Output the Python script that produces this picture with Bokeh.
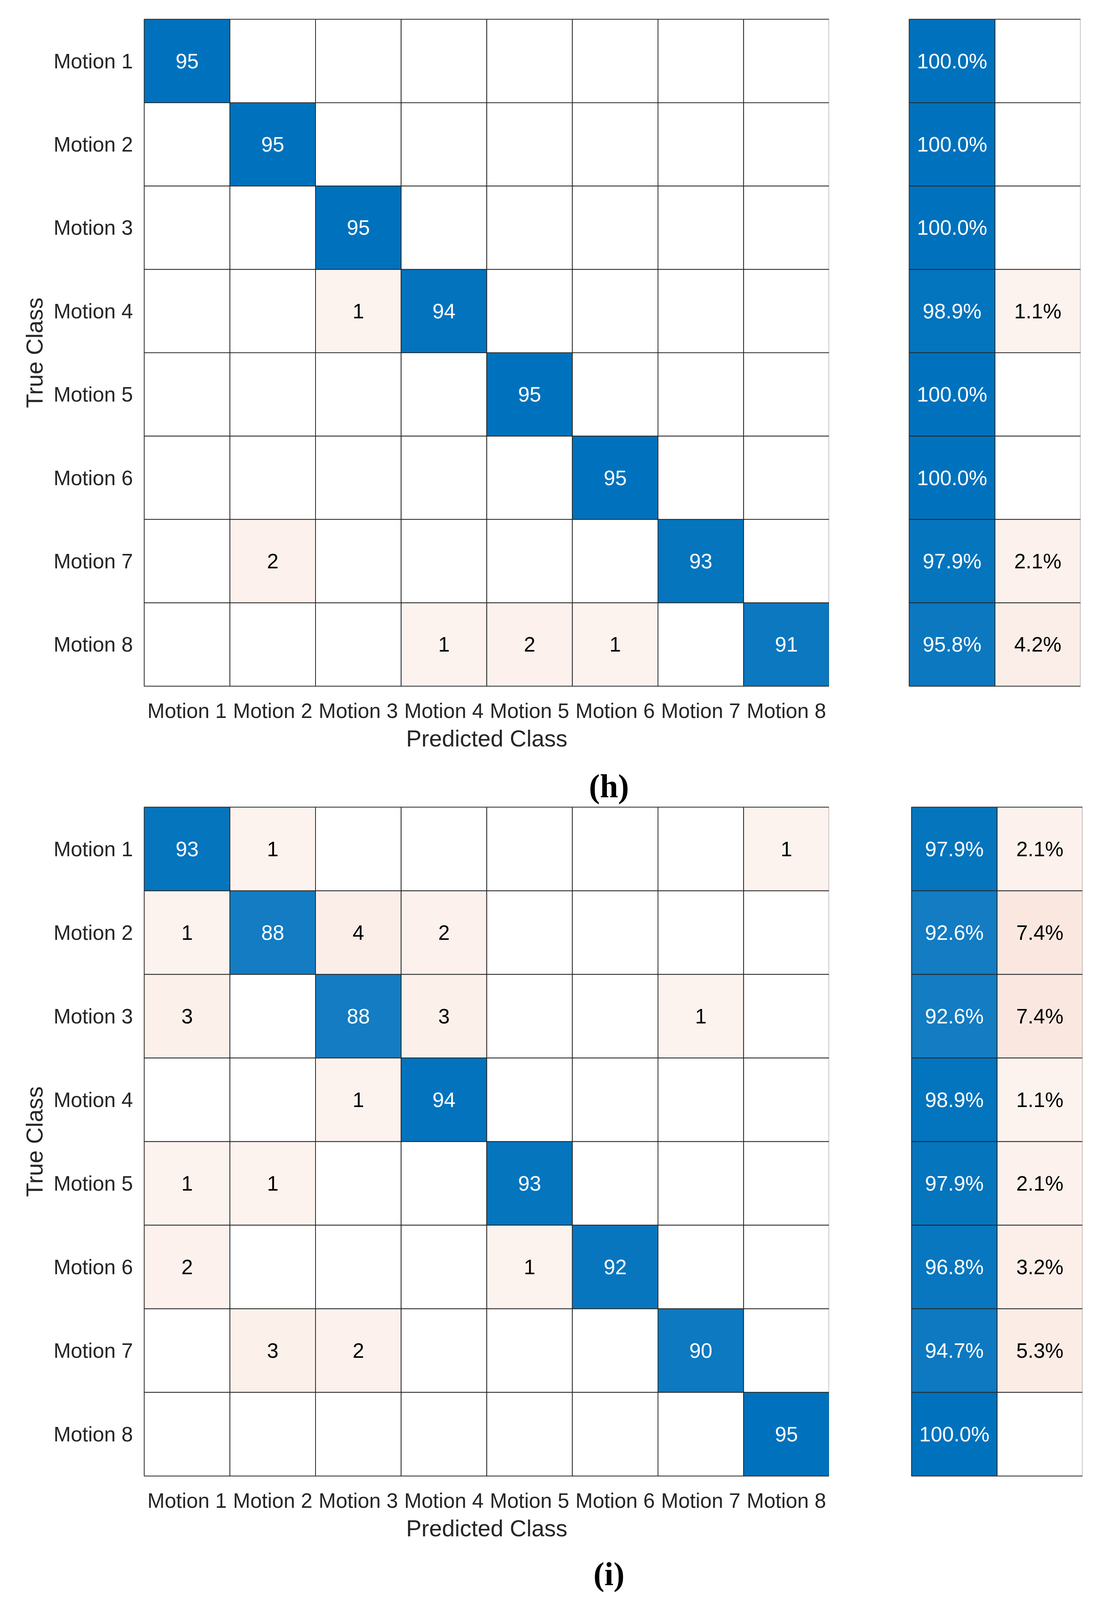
from bokeh.plotting import figure
from bokeh.models import FactorRange, Range1d, ColumnDataSource
from bokeh.layouts import column, row
from bokeh.embed import file_html
from bokeh.resources import INLINE
from bokeh.core.properties import value

# ---------------- data ----------------
classes = ["Motion 1", "Motion 2", "Motion 3", "Motion 4",
           "Motion 5", "Motion 6", "Motion 7", "Motion 8"]
summary_cols = ["correct", "error"]

counts_h = [
    [95, 0, 0, 0, 0, 0, 0, 0],
    [0, 95, 0, 0, 0, 0, 0, 0],
    [0, 0, 95, 0, 0, 0, 0, 0],
    [0, 0, 1, 94, 0, 0, 0, 0],
    [0, 0, 0, 0, 95, 0, 0, 0],
    [0, 0, 0, 0, 0, 95, 0, 0],
    [0, 2, 0, 0, 0, 0, 93, 0],
    [0, 0, 0, 1, 2, 1, 0, 91],
]
correct_h = [100.0, 100.0, 100.0, 98.9, 100.0, 100.0, 97.9, 95.8]
error_h = [0.0, 0.0, 0.0, 1.1, 0.0, 0.0, 2.1, 4.2]

counts_i = [
    [93, 1, 0, 0, 0, 0, 0, 1],
    [1, 88, 4, 2, 0, 0, 0, 0],
    [3, 0, 88, 3, 0, 0, 1, 0],
    [0, 0, 1, 94, 0, 0, 0, 0],
    [1, 1, 0, 0, 93, 0, 0, 0],
    [2, 0, 0, 0, 1, 92, 0, 0],
    [0, 3, 2, 0, 0, 0, 90, 0],
    [0, 0, 0, 0, 0, 0, 0, 95],
]
correct_i = [97.9, 92.6, 92.6, 98.9, 97.9, 96.8, 94.7, 100.0]
error_i = [2.1, 7.4, 7.4, 1.1, 2.1, 3.2, 5.3, 0.0]

captions = ["(h)", "(i)"]

# ---------------- style ----------------
BLUE = (0, 114, 189)
RED = (217, 83, 25)
FONT = "Liberation Sans"
LINE = "#262626"
PAGE_W = 2824
CAP_H = 100
CAP_X = 1559


def blend(base, t):
    t = max(0.0, min(1.0, t))
    return "#%02x%02x%02x" % tuple(int(round(255 + t * (c - 255))) for c in base)


def off_t(v):
    return 0.06 + 0.01 * v


def style_common(p):
    p.grid.visible = False
    p.outline_line_color = "#555555"
    p.outline_line_width = 3
    p.background_fill_color = "white"
    p.border_fill_color = "white"


def make_main(counts, fw, fh, top, bottom):
    xs, ys, fills, labels, tcs = [], [], [], [], []
    vmax = max(max(r) for r in counts)
    for i, rv in enumerate(counts):
        for j, v in enumerate(rv):
            xs.append(classes[j])
            ys.append(classes[i])
            if v == 0:
                fills.append("#ffffff"); labels.append(""); tcs.append("black")
            elif i == j:
                fills.append(blend(BLUE, v / vmax)); labels.append(str(v)); tcs.append("white")
            else:
                fills.append(blend(RED, off_t(v))); labels.append(str(v)); tcs.append("black")
    src = ColumnDataSource(dict(x=xs, y=ys, fill=fills, label=labels, tc=tcs))
    p = figure(x_range=FactorRange(factors=classes),
               y_range=FactorRange(factors=classes[::-1]),
               frame_width=fw, frame_height=fh,
               min_border_left=369, min_border_right=0,
               min_border_top=top, min_border_bottom=bottom,
               output_backend="svg", toolbar_location=None, tools="")
    p.rect(x="x", y="y", width=1, height=1, source=src, fill_color="fill",
           line_color=LINE, line_width=2)
    p.text(x="x", y="y", text="label", text_color="tc", source=src,
           text_align="center", text_baseline="middle",
           text_font=value(FONT), text_font_size="53px")
    style_common(p)
    for ax in (p.xaxis, p.yaxis):
        ax.axis_line_color = None
        ax.major_tick_line_color = None
        ax.minor_tick_line_color = None
        ax.major_tick_in = 0
        ax.major_tick_out = 0
        ax.major_label_text_font = FONT
        ax.major_label_text_font_size = "53px"
        ax.major_label_text_color = "#262626"
        ax.axis_label_text_font = FONT
        ax.axis_label_text_font_size = "59px"
        ax.axis_label_text_font_style = "normal"
        ax.axis_label_text_color = "#262626"
    p.xaxis.axis_label = "Predicted Class"
    p.yaxis.axis_label = "True Class"
    p.xaxis.major_label_standoff = 33
    p.yaxis.major_label_standoff = 29
    p.xaxis.axis_label_standoff = 6
    p.yaxis.axis_label_standoff = 12
    return p


def make_summary(correct, error, fw, fh, left, top, bottom):
    xs, ys, fills, labels, tcs = [], [], [], [], []
    for i in range(len(classes)):
        c, e = correct[i], error[i]
        xs.append(summary_cols[0]); ys.append(classes[i])
        fills.append(blend(BLUE, c / 100.0)); labels.append(f"{c:.1f}%"); tcs.append("white")
        xs.append(summary_cols[1]); ys.append(classes[i])
        if e > 0:
            fills.append(blend(RED, off_t(e))); labels.append(f"{e:.1f}%")
        else:
            fills.append("#ffffff"); labels.append("")
        tcs.append("black")
    src = ColumnDataSource(dict(x=xs, y=ys, fill=fills, label=labels, tc=tcs))
    p = figure(x_range=FactorRange(factors=summary_cols),
               y_range=FactorRange(factors=classes[::-1]),
               frame_width=fw, frame_height=fh,
               min_border_left=left, min_border_right=0,
               min_border_top=top, min_border_bottom=bottom,
               x_axis_location=None, y_axis_location=None,
               output_backend="svg", toolbar_location=None, tools="")
    p.rect(x="x", y="y", width=1, height=1, source=src, fill_color="fill",
           line_color=LINE, line_width=2)
    p.text(x="x", y="y", text="label", text_color="tc", source=src,
           text_align="center", text_baseline="middle",
           text_font=value(FONT), text_font_size="53px")
    style_common(p)
    return p


def make_caption(text):
    p = figure(x_range=Range1d(0, PAGE_W), y_range=Range1d(0, CAP_H),
               frame_width=PAGE_W, frame_height=CAP_H,
               min_border=0, x_axis_location=None, y_axis_location=None,
               output_backend="svg", toolbar_location=None, tools="")
    p.grid.visible = False
    p.outline_line_color = None
    p.background_fill_color = "white"
    p.border_fill_color = "white"
    p.text(x=[CAP_X], y=[CAP_H / 2], text=[text], text_align="center",
           text_baseline="middle", text_font=value("Liberation Serif"),
           text_font_style="bold", text_font_size="84px", text_color="black")
    return p


main_h = make_main(counts_h, 1754, 1707, 49, 206)
sum_h = make_summary(correct_h, error_h, 439, 1707, 205, 49, 206)
cap_h = make_caption(captions[0])
main_i = make_main(counts_i, 1754, 1712, 4, 201)
sum_i = make_summary(correct_i, error_i, 438, 1712, 211, 4, 201)
cap_i = make_caption(captions[1])

layout = column(row(main_h, sum_h), cap_h, row(main_i, sum_i), cap_i)
open("out.html", "w").write(file_html(layout, INLINE))
